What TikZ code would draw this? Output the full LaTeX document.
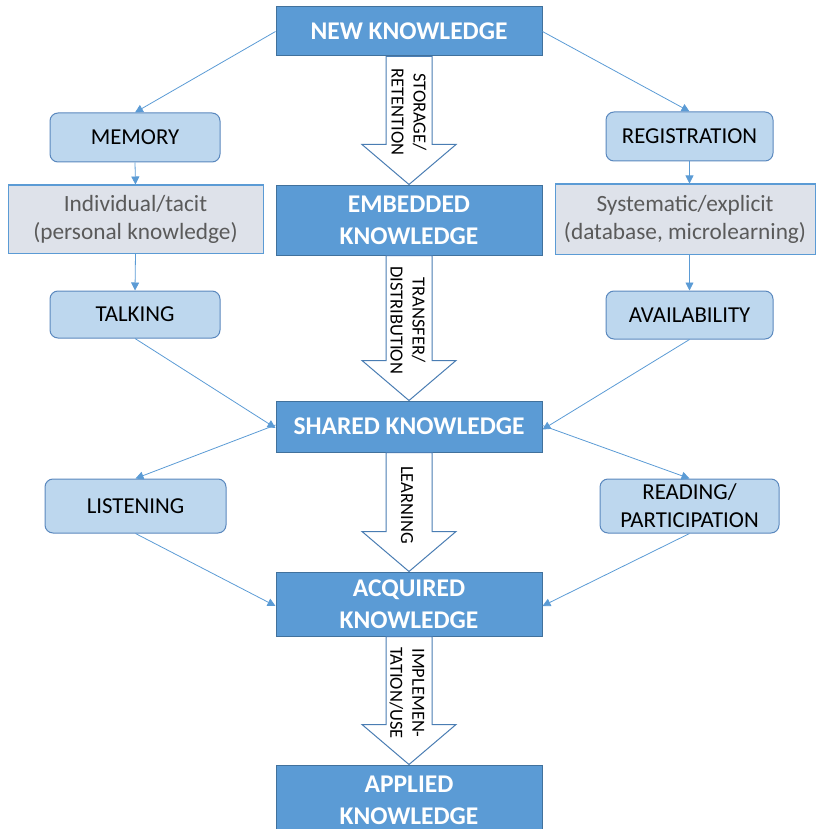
\documentclass[tikz,border=0pt]{standalone}
\usepackage{fontspec}
\setmainfont{Carlito}
\usetikzlibrary{arrows.meta,calc}
\definecolor{darkblue}{HTML}{5B9BD5}
\definecolor{darkedge}{HTML}{41719C}
\definecolor{lightblue}{HTML}{BDD7EE}
\definecolor{lightedge}{HTML}{5A88BE}
\definecolor{greyfill}{HTML}{DEE2EA}
\definecolor{greytext}{HTML}{5A5A5A}
\definecolor{linkblue}{HTML}{5B9BD5}
\definecolor{fatedge}{HTML}{4A7DB3}

% wide hollow arrow between two stage boxes
\newcommand\fatarrow[2]{%
  \draw[fatshape] let \p1=(#1), \p2=(#2) in
    (\x1-23pt,\y1) -- (\x1-23pt,\y2+40pt) -- (\x1-47pt,\y2+40pt) --
    (\x2,\y2) -- (\x1+47pt,\y2+40pt) -- (\x1+23pt,\y2+40pt) --
    (\x1+23pt,\y1) -- cycle;}

\tikzset{
  stage/.style={draw=darkedge, line width=1pt, fill=darkblue, text=white,
    font=\fontsize{25.5}{32}\selectfont\bfseries, align=center,
    minimum width=266pt, inner sep=0pt},
  action/.style={draw=lightedge, line width=1pt, fill=lightblue, text=black,
    rounded corners=8pt, font=\fontsize{22.8}{28}\selectfont, align=center,
    inner sep=0pt},
  kind/.style={draw=linkblue, line width=1pt, fill=greyfill, text=greytext,
    font=\fontsize{23.3}{28}\selectfont, align=center, inner sep=0pt},
  link/.style={draw=linkblue, line width=0.8pt,
    -{Triangle[length=8pt,width=8pt]}},
  fatshape/.style={draw=fatedge, line width=1pt, fill=white},
  vlabel/.style={rotate=-90, font=\fontsize{18.5}{22}\selectfont, align=center,
    text=black, inner sep=0pt}
}

\begin{document}
\begin{tikzpicture}[x=1pt,y=-1pt]
\useasboundingbox (0,0) rectangle (817,829);
\clip (0,0) rectangle (817,829);

% central stages
\node[stage, minimum height=49pt] (new) at (409,31.5) {NEW KNOWLEDGE};
\node[stage, minimum height=70pt] (emb) at (409,220) {EMBEDDED\\KNOWLEDGE};
\node[stage, minimum height=51pt] (shared) at (409,426.5) {SHARED KNOWLEDGE};
\node[stage, minimum height=64pt] (acq) at (409,604) {ACQUIRED\\KNOWLEDGE};
\node[stage, minimum height=70pt] (app) at (409,800) {APPLIED\\KNOWLEDGE};

% left branch
\node[action, minimum width=170pt, minimum height=49pt] (memory) at (135,137.5) {MEMORY};
\node[kind, minimum width=255pt, minimum height=68pt] (tacit) at (135.5,219) {Individual/tacit\\(personal knowledge)};
\node[action, minimum width=170pt, minimum height=47pt] (talking) at (135,314.5) {TALKING};
\node[action, minimum width=181pt, minimum height=54pt] (listening) at (135.5,506) {LISTENING};

% right branch
\node[action, minimum width=167pt, minimum height=49pt] (registration) at (689.5,136.5) {REGISTRATION};
\node[kind, minimum width=260pt, minimum height=70pt] (explicit) at (685,219) {Systematic/explicit\\(database, microlearning)};
\node[action, minimum width=167pt, minimum height=48pt] (availability) at (689.5,315) {AVAILABILITY};
\node[action, minimum width=179pt, minimum height=54pt] (reading) at (689.5,506) {READING/\\PARTICIPATION};

% hollow arrows between stages
\fatarrow{new.south}{emb.north}
\fatarrow{emb.south}{shared.north}
\fatarrow{shared.south}{acq.north}
\fatarrow{acq.south}{app.north}

% arrow captions
\node[vlabel] (lstore) at (409,112) {STORAGE/\\RETENTION};
\node[vlabel] (ltrans) at (408,320) {TRANSFER/\\DISTRIBUTION};
\node[vlabel] (llearn) at (407,505) {LEARNING};
\node[vlabel] (limpl) at (407,693) {IMPLEMEN-\\TATION/USE};

% thin connectors
\draw[link] (new.west) -- (memory.north);
\draw[link] (new.east) -- (registration.north);
\draw[link] (memory.south) -- (tacit.north);
\draw[link] (tacit.south) -- (talking.north);
\draw[link] (registration.south) -- (registration.south |- explicit.north);
\draw[link] (registration.south |- explicit.south) -- (availability.north);
\draw[link] (talking.south) -- ([yshift=-1.5pt]shared.west);
\draw[link] (availability.south) -- ([yshift=-3pt]shared.east);
\draw[link] ([yshift=1.5pt]shared.west) -- (listening.north);
\draw[link] ([yshift=1pt]shared.east) -- (reading.north);
\draw[link] (listening.south) -- ([yshift=-2pt]acq.west);
\draw[link] (reading.south) -- ([yshift=-2pt]acq.east);
\end{tikzpicture}
\end{document}
